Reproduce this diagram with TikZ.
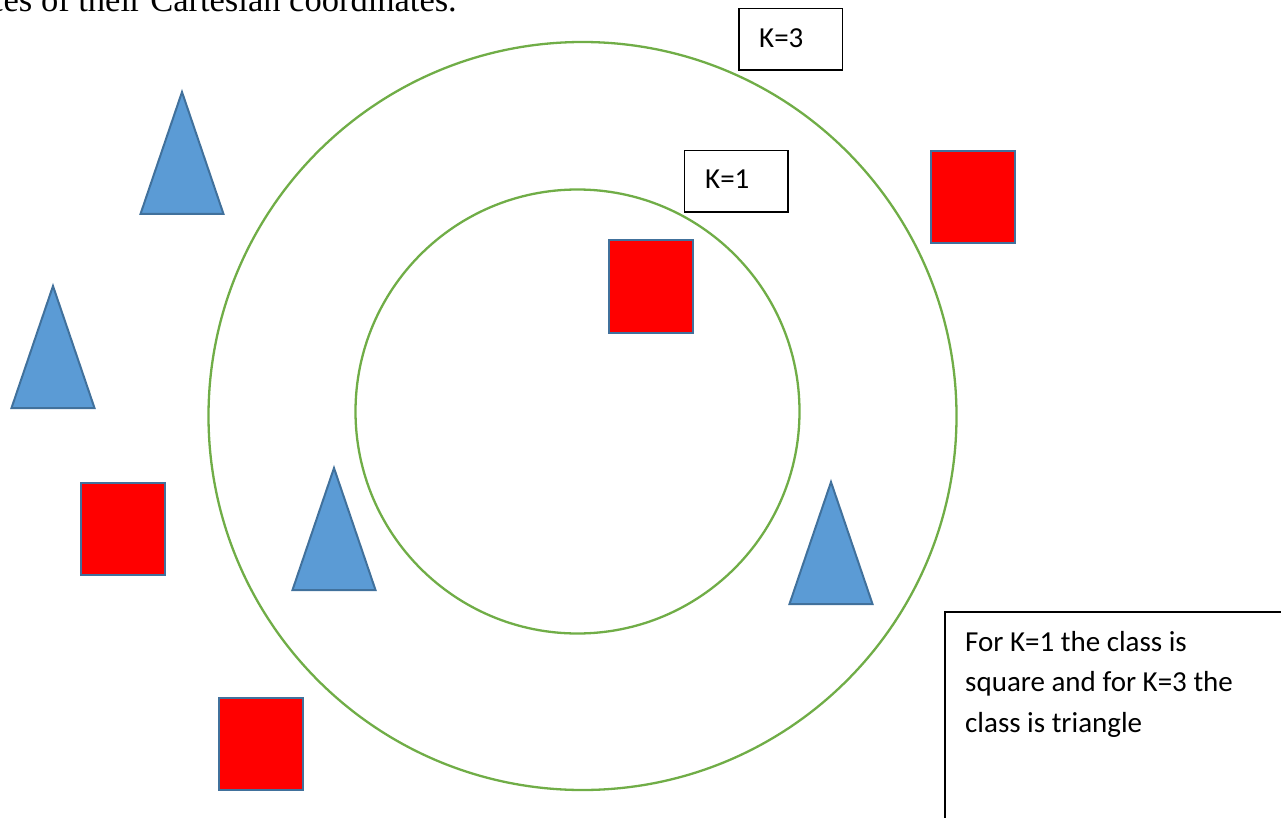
\documentclass[tikz,border=0pt]{standalone}
\usepackage{fontspec}
\setmainfont{Carlito}
\newfontfamily\pageserif{Liberation Serif}
\definecolor{sqred}{HTML}{FF0000}
\definecolor{triblue}{HTML}{5B9BD5}
\definecolor{edgeblue}{HTML}{41719C}
\definecolor{ringgreen}{HTML}{70AD47}
\begin{document}
\begin{tikzpicture}[x=1pt,y=-1pt,
	ring/.style={circle,draw=ringgreen,line width=2.3pt,inner sep=0pt},
	sq/.style={rectangle,draw=edgeblue,fill=sqred,line width=2pt,minimum width=84pt,minimum height=92pt,inner sep=0pt},
	tri/.style={draw=edgeblue,fill=triblue,line width=2pt},
	kbox/.style={rectangle,draw,fill=white,line width=1.5pt,minimum width=103.5pt,minimum height=61.5pt,inner sep=0pt},
	word/.style={inner sep=0pt,font=\fontsize{29}{40.5}\selectfont}]
			\useasboundingbox(0,0)rectangle(1281,818);
			\clip(0,0)rectangle(1281,818);
			% line of page text cut by the top edge
			\node[inner sep=0pt,anchor=base east,font=\pageserif\fontsize{34.5}{40}\selectfont](caption)at(457,12){ces of their Cartesian coordinates.};
			% neighbourhoods
			\node[ring,minimum size=748pt](outer)at(582.5,416){};
			\node[ring,minimum size=444pt](inner)at(577.5,411.5){};
			% squares
			\node[sq](s1)at(651,286.5){};
			\node[sq](s2)at(973,197){};
			\node[sq](s3)at(122.5,528.5){};
			\node[sq](s4)at(261,744){};
			% triangles
			\foreach \x/\y in {182/89,53/283,334/465,831/479}
				\draw[tri](\x,\y+3)--(\x-41.5,\y+125)--(\x+41.5,\y+125)--cycle;
			% labels of the two circles
			\node[kbox](k3)at(790.5,39.5){};
			\node[word,anchor=base west](k3text)at(759,48){K=3};
			\node[kbox](k1)at(736,181.5){};
			\node[word,anchor=base west](k1text)at(705,189){K=1};
			% note
			\node[rectangle,draw,line width=1.5pt,anchor=north west,minimum width=360pt,minimum height=240pt](legend)at(944,611){};
			\node[word,anchor=base west,align=left](notetext)at(965,732){For K=1 the class is\\square and for K=3 the\\class is triangle};
		\end{tikzpicture}
\end{document}
